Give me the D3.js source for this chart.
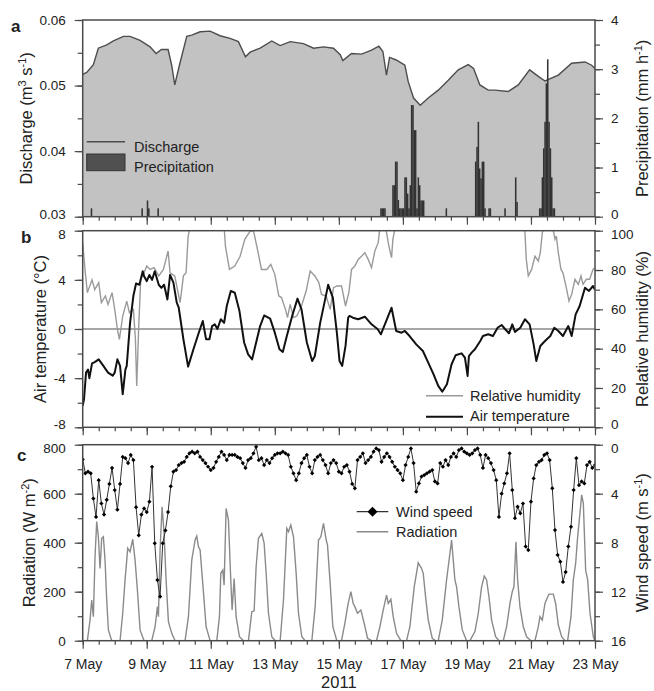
<!DOCTYPE html>
<html>
<head>
<meta charset="utf-8">
<script src="https://cdn.jsdelivr.net/npm/d3@7"></script>
<style>
  body { margin: 0; background: #fff; }
  svg { font-family: "Liberation Sans", Arial, sans-serif; }
</style>
</head>
<body>
<svg id="chart" width="654" height="691"></svg>
<script>
// hours after 7 May 2011 00:00, value
const discharge = [
  [0, 0.0517], [3, 0.052], [8, 0.0532], [11.7, 0.0557], [18, 0.0562], [23, 0.0568], [30.5, 0.0575],
  [35.5, 0.0575], [43, 0.0569], [50.5, 0.0559], [55, 0.0549], [59, 0.0555], [64, 0.0555], [66.7, 0.0531],
  [69, 0.0501], [72.5, 0.0531], [78, 0.0575], [81.7, 0.0577], [88, 0.0582], [95.5, 0.0583], [103, 0.0576],
  [110.5, 0.0572], [116.7, 0.0567], [122, 0.0544], [125.5, 0.0551], [133, 0.0557], [141.7, 0.0568],
  [148, 0.0561], [155.5, 0.0567], [165.5, 0.0564], [173, 0.0557], [180.5, 0.0559], [188, 0.0557],
  [193, 0.0547], [195, 0.0538], [201.5, 0.0549], [209, 0.0548], [216.5, 0.0554], [222, 0.056],
  [225, 0.0552], [227.7, 0.0516], [230, 0.0543], [235, 0.0539], [241.5, 0.0531], [244, 0.0506],
  [248, 0.0481], [253, 0.047], [259, 0.0481], [266.5, 0.0493], [274, 0.0508], [281.5, 0.0524],
  [289, 0.0532], [293, 0.0526], [297.7, 0.0501], [304, 0.0493], [309, 0.0493], [319, 0.0491],
  [326.5, 0.0501], [335, 0.0524], [341.5, 0.0514], [346.5, 0.0507], [356.5, 0.0516], [366.5, 0.0534],
  [376.5, 0.0536], [381.5, 0.0531], [384, 0.0526],
];

// hourly totals (start hour, mm/h), zero hours left out
const precipitation = [
  [6, 0.17], [44, 0.17], [48, 0.33], [49, 0.17], [56, 0.17],
  [223, 0.17], [224, 0.17], [225, 0.17], [226, 0.17],
  [232, 0.64], [233, 0.64], [234, 1.12], [235, 1.12], [236, 0.34], [237, 0.17], [238, 0.17], [239, 0.17],
  [240, 0.17], [241, 0.8], [242, 0.8], [243, 0.47], [244, 0.17], [245, 0.64], [246, 2.27], [247, 2.27],
  [248, 1.76], [249, 1.76], [250, 0.17], [251, 0.8], [252, 0.64], [253, 0.33], [254, 0.33], [255, 0.33],
  [272, 0.17],
  [294, 1.12], [295, 1.42], [296, 1.93], [297, 0.98], [298, 0.78], [299, 1.12], [300, 1.12], [301, 0.17],
  [304, 0.17], [305, 0.17], [316, 0.17], [324, 0.8], [325, 0.3],
  [342, 0.17], [343, 0.17], [344, 0.8], [345, 1.39], [346, 1.93], [347, 2.71], [348, 3.2], [349, 1.93],
  [350, 1.39], [351, 0.8], [352, 0.17], [353, 0.17],
];

const airTemperature = [
  [0, -6.26], [1, -5.7], [2.5, -3.55], [4, -3.3], [5, -4.0], [7, -2.8], [9, -2.7], [12, -2.47], [15.5, -3.0],
  [19, -3.55], [22.5, -3.8], [24, -3.55], [26, -2.47], [28, -3.0], [30, -5.3], [32, -3.3], [33, -3.0],
  [35.5, 0.5], [38, 2.7], [40, 3.7], [42.5, 3.6], [45, 4.7], [46, 4.3], [48, 3.9], [50, 4.4], [52, 4.0],
  [54, 4.7], [57, 3.6], [59, 3.35], [61, 3.6], [63.5, 2.4], [65.5, 4.4], [68, 3.77], [70.5, 2.14],
  [72, 1.73], [75.5, -0.84], [79, -3.06], [83, -1.65], [87, -0.3], [90, 0.65], [92.5, -0.84], [95, -0.84],
  [97, 0.24], [99, 0.38], [101, 0], [103.5, 0.79], [106, 0.5], [108, 1.87], [111, 3.1], [114, 2.95],
  [117.5, 1.46], [121, -1.1], [124, -2.06], [127, -2.47], [130, -1.1], [133, 0.24], [136, 1.1],
  [140.5, 0.84], [144, -0.3], [147.5, -1.65], [150, -1.87], [153, -0.57], [157, 1.06], [161, 2.47],
  [164, 1.6], [168, -1.1], [172, -2.6], [174, -2.2], [178, 0.5], [182, 2.55], [184, 3.6], [187.5, 2.55],
  [190.5, -0.3], [192.5, -2.6], [194.5, -3.0], [197, -1.38], [199, 0.92], [200, 1.06], [202.5, 0.92],
  [206.5, 0.79], [211.5, 1.0], [216.5, 0.38], [221, 0], [223.5, -0.43], [226.5, 0.38], [231.5, 1.73],
  [235, -0.16], [239, -0.3], [241.5, -0.16], [245, -0.57], [250, -1.25], [255, -1.79], [259, -2.74],
  [263, -3.69], [266.5, -4.63], [269.5, -5.1], [273, -4.5], [276.5, -2.87], [279.5, -2.14], [284, -1.98],
  [286.5, -2.33], [288.5, -3.82], [289.5, -2.2], [291.5, -1.92], [294, -1.65], [298, -0.98], [300, -0.57],
  [304, -0.43], [307.5, -0.57], [311, 0.1], [314, 0.33], [316.5, 0], [319.5, -0.35], [322, 0.38],
  [324, -0.24], [328, 0.1], [331.5, 0.79], [335, 0.38], [338, -1.25], [340, -2.6], [343, -1.38],
  [346.5, -0.98], [350.5, -0.57], [353.5, 0.1], [356.5, -0.16], [360, -0.57], [364, 0.24], [366.5, -0.57],
  [369.5, 1.19], [372.5, 1.87], [376.5, 3.36], [379.5, 3.1], [382.5, 3.5], [384, 3.2],
];

const relativeHumidity = [
  [0, 93.9], [1.75, 80], [3.5, 68.5], [7, 75], [9, 70], [12, 73.6], [14, 63.4], [17, 66.8], [19, 62.5],
  [22, 68.5], [24, 60], [26, 49.8], [27.5, 44.7], [30, 56.6], [33, 64.2], [35, 58.3], [38, 60], [39.5, 45],
  [40.5, 21], [42, 51.5], [43.5, 75.3], [45.5, 77.8], [48, 82], [50.5, 80.3], [53.5, 81.2], [57, 77],
  [60.5, 80.3], [64, 89.7], [65.5, 78.6], [69, 77], [73, 63.4], [75.5, 77], [77.5, 78.6], [79, 97],
  [80.5, 102], [88, 104], [98, 104], [106, 102], [107, 92], [110, 80.3], [114, 82], [118, 87],
  [121.5, 95.6], [125.5, 99.8], [128, 100], [131.5, 88.8], [134, 80.3], [138, 80.3], [141, 82.9],
  [144, 77.8], [147, 66.8], [149, 66], [152, 60], [153.5, 55.8], [155.5, 62.5], [158, 55.8], [160.5, 56.6],
  [164, 61.7], [167.5, 69.3], [170.5, 79.5], [174, 77], [177, 73.6], [179, 67.6], [182.5, 66.8],
  [185.5, 60], [188, 71], [190.5, 71.9], [194, 71.9], [197, 61.7], [199.5, 68.5], [201.5, 80.3], [204, 82],
  [206.5, 85.4], [209, 87], [211.5, 88.8], [214, 85.4], [216.5, 81.2], [219, 89.7], [221.5, 93.9],
  [222.5, 99.8], [225, 102], [227.5, 100], [229.5, 92.2], [231.5, 86.3], [232.5, 95.6], [234, 101],
  [240, 106], [330, 106], [331.5, 99], [332.5, 85.4], [334, 77], [336.5, 80.3], [339, 87], [341.5, 84.6],
  [343, 88.8], [344.5, 99], [346.5, 102], [352.5, 101], [354, 95.6], [355, 97.3], [356.5, 88.8],
  [358.5, 80.3], [360, 78.6], [362.5, 71], [364.5, 64.2], [366.5, 67.6], [369, 75.3], [371.5, 72.7],
  [373.5, 77], [375, 72.7], [377.5, 75.3], [380, 75.3], [382.5, 80.3], [384, 81.2],
];

const radiation = [
  [0, 0], [3.5, 0], [5.5, 84], [6.75, 166], [8, 98], [9.25, 343], [10.5, 486], [11.75, 424], [13, 295],
  [14.25, 418], [15.5, 424], [16.75, 329], [18, 166], [19.25, 44], [21.75, 0],
  [28, 0], [30, 112], [31.75, 248], [33.75, 377], [35.5, 363], [37.5, 414], [39.25, 329], [41, 207], [43, 44], [46, 0],
  [51.75, 0], [54.25, 57], [56, 139], [56.75, 98], [58, 370], [59.5, 547], [61, 438], [62.5, 248], [64.25, 78], [66.75, 30], [69.25, 0],
  [76.75, 0], [79.25, 98], [81.75, 329], [84.25, 411], [85.5, 427], [86.75, 384], [88, 370], [90, 234], [92.5, 57], [95.5, 0],
  [100.5, 0], [102.5, 98], [103.5, 275], [105, 288], [106, 227], [107.5, 540], [109.25, 492], [111, 248], [112, 125],
  [113.5, 254], [115, 98], [117.5, 16], [120.5, 0],
  [124.25, 0], [126.75, 118], [128.5, 122], [130, 302], [131.75, 418], [134.25, 438], [136, 397], [137.5, 275],
  [139.25, 112], [141.75, 16], [144.25, 0],
  [148, 0], [150.5, 166], [153, 458], [154.25, 445], [156, 472], [158, 424], [160, 275], [161.75, 112], [164.25, 16], [166.75, 0],
  [171.75, 0], [174.25, 139], [176.75, 411], [178.5, 424], [180.5, 479], [182.5, 411], [183.5, 390], [185.5, 234], [187.5, 57], [190.5, 0],
  [194, 0], [196.5, 71], [199, 152], [201, 200], [202.75, 152], [204, 139], [206, 112], [208.5, 125], [211, 71], [213.5, 10], [216.5, 0],
  [220.25, 0], [222.75, 57], [225.25, 125], [227.75, 186], [229, 152], [231, 169], [232.75, 98], [235.25, 30], [238.5, 0],
  [242.75, 0], [245.25, 57], [248.5, 220], [251.5, 318], [254, 295], [255.25, 275], [257, 180], [259, 84], [262, 10], [264.5, 0],
  [266.5, 0], [269.5, 84], [272.75, 248], [275.25, 356], [276.5, 411], [277.75, 329], [279, 248], [280.25, 220], [282, 139],
  [284.5, 44], [287.75, 0],
  [290.25, 0], [294, 37], [296.5, 112], [299, 220], [301, 264], [302.75, 248], [304.5, 180], [306.5, 84], [309.5, 16], [312, 0],
  [315.25, 0], [317.75, 57], [320.25, 152], [322, 200], [323.25, 220], [324.75, 404], [326, 248], [327.75, 139], [330.25, 57],
  [332.75, 16], [336, 0],
  [339, 0], [341.5, 57], [342.75, 98], [344.5, 84], [346.5, 152], [347.75, 169], [349.5, 190], [352.75, 190], [354.5, 152],
  [356.5, 64], [359, 16], [361.5, 0],
  [363.5, 0], [366, 98], [367.75, 248], [369.5, 316], [371, 424], [372, 479], [374, 595], [375.25, 561], [377, 288],
  [378.5, 248], [380.25, 112], [382.75, 16], [384, 0],
];

// wind speed every 2 h from 7 May 00:00, one row per day
const windStepHours = 2;
const windSpeed = [
  1.2, 2.34, 2.2, 2.34, 4.4, 5.9, 2.9, 4.8, 5.7, 4.5, 3.2, 1.9,
  3.7, 5.3, 3.2, 1.0, 1.1, 1.5, 0.84, 1.25, 5.1, 7.4, 5.7, 5.2,
  5.5, 4.65, 1.8, 8.05, 11.05, 12.4, 8.05, 7.0, 5.5, 3.4, 2.2, 2.07,
  1.66, 1.5, 1.4, 1.0, 0.7, 0.57, 0.7, 0.57, 1.0, 1.25, 1.5, 1.8,
  2.07, 1.9, 1.4, 1.0, 0.57, 0.84, 1.25, 0.84, 0.84, 0.84, 1.0, 1.1,
  1.5, 1.9, 1.25, 1.1, 0.7, 0.16, 1.25, 1.1, 1.66, 1.25, 1.5, 1.1,
  0.84, 0.7, 0.7, 0.57, 0.7, 0.84, 1.8, 2.34, 2.9, 2.34, 1.5, 1.1,
  0.84, 1.8, 2.34, 1.25, 1.0, 0.84, 1.25, 1.66, 2.34, 1.5, 1.25, 1.5,
  2.2, 2.34, 1.8, 1.66, 2.2, 3.2, 3.56, 1.25, 1.0, 0.7, 1.5, 1.25,
  1.0, 0.57, 0.3, 0.44, 1.4, 1.0, 0.7, 1.0, 1.4, 1.8, 2.07, 2.34,
  2.9, 1.66, 1.0, 0.3, 1.5, 3.84, 3.16, 2.6, 2.48, 2.34, 2.2, 2.07,
  3.0, 3.16, 1.5, 1.8, 1.25, 1.66, 1.0, 0.7, 1.0, 0.44, 0.3, 0.57,
  0.7, 0.84, 0.7, 0.44, 0.3, 0.84, 1.9, 0.84, 1.1, 1.5, 2.07, 2.9,
  5.9, 4.0, 3.16, 2.34, 0.7, 3.7, 6.0, 5.06, 5.6, 4.8, 8.3, 8.6,
  4.65, 2.75, 1.66, 1.4, 1.25, 0.84, 0.7, 1.25, 3.56, 6.97, 9.0, 9.55,
  11.2, 10.4, 8.3, 6.7, 3.7, 1.1, 3.3, 3.0, 3.16, 1.66, 1.4, 1.9,
  1.66,
];

const dischargeTicks = [0.03, 0.04, 0.05, 0.06];
const precipTicks = [0, 1, 2, 3, 4];
const temperatureTicks = [-8, -4, 0, 4, 8];
const humidityTicks = [0, 20, 40, 60, 80, 100];
const radiationTicks = [0, 200, 400, 600, 800];
const windTicks = [0, 4, 8, 12, 16];
const dayLabelHours = [0, 48, 96, 144, 192, 240, 288, 336, 384];

const left = 82.7;
const right = 595;
const panels = {
  a: { top: 20, bottom: 216.7 },
  b: { top: 230.7, bottom: 427.3 },
  c: { top: 444.7, bottom: 640.7 },
};
const frameColor = "#4a4a4a";
const textColor = "#222";

const toDate = (h) => new Date(Date.UTC(2011, 4, 7) + h * 3600 * 1000);

const svg = d3.select("#chart");
const x = d3.scaleUtc().domain([toDate(0), toDate(384)]).range([left, right]);

const yQ = d3.scaleLinear().domain([0.03, 0.06]).range([panels.a.bottom, panels.a.top]);
const yP = d3.scaleLinear().domain([0, 4]).range([panels.a.bottom, panels.a.top]);
const yT = d3.scaleLinear().domain([-8, 8]).range([panels.b.bottom, panels.b.top]);
const yH = d3.scaleLinear().domain([0, 100]).range([panels.b.bottom, panels.b.top]);
const yR = d3.scaleLinear().domain([0, 800]).range([panels.c.bottom, panels.c.top]);
const yW = d3.scaleLinear().domain([0, 16]).range([panels.c.top, panels.c.bottom]);

const defs = svg.append("defs");
Object.entries(panels).forEach(([k, p]) => {
  defs.append("clipPath").attr("id", `clip-${k}`)
    .append("rect")
    .attr("x", left).attr("y", p.top)
    .attr("width", right - left).attr("height", p.bottom - p.top);
});

function halfSteps(ticks) {
  const step = ticks[1] - ticks[0];
  return d3.range(ticks.length * 2 - 1).map((i) => ticks[0] + (i * step) / 2);
}

function styleAxis(g) {
  g.select(".domain").remove();
  g.selectAll(".tick line").attr("stroke", frameColor).attr("stroke-width", 1.2);
  g.selectAll(".tick text").attr("fill", textColor).attr("font-size", 13.5);
}

// labels at a shared panel edge are nudged apart so they do not collide
function nudgeEnds(g, scale, p, shiftTop, shiftBottom) {
  g.selectAll(".tick text").attr("y", (d) => {
    const py = scale(d);
    if (Math.abs(py - p.top) < 0.5) return shiftTop;
    if (Math.abs(py - p.bottom) < 0.5) return -shiftBottom;
    return 0;
  });
}

function drawAxes(p, yLeft, leftTicks, leftFormat, yRight, rightTicks, opts) {
  const { showDates = false, shiftTop = 0, shiftBottom = 0 } = opts;
  const g = svg.append("g");

  g.append("g")
    .attr("transform", `translate(0,${p.bottom})`)
    .call(d3.axisBottom(x).tickValues(d3.range(0, 385, 12).map(toDate)).tickSize(4).tickFormat(""))
    .call(styleAxis);
  g.append("g")
    .attr("transform", `translate(0,${p.bottom})`)
    .call(
      d3.axisBottom(x)
        .tickValues(dayLabelHours.map(toDate))
        .tickSize(8)
        .tickPadding(10)
        .tickFormat(showDates ? d3.utcFormat("%-d %b") : "")
    )
    .call(styleAxis)
    .call((a) => a.selectAll(".tick text").attr("font-size", 14));

  g.append("g")
    .attr("transform", `translate(${left},0)`)
    .call(d3.axisLeft(yLeft).tickValues(halfSteps(leftTicks)).tickSize(5).tickFormat(""))
    .call(styleAxis);
  g.append("g")
    .attr("transform", `translate(${left},0)`)
    .call(d3.axisLeft(yLeft).tickValues(leftTicks).tickSize(8).tickPadding(9).tickFormat(leftFormat))
    .call(styleAxis)
    .call((a) => nudgeEnds(a, yLeft, p, shiftTop, shiftBottom));

  g.append("g")
    .attr("transform", `translate(${right},0)`)
    .call(d3.axisRight(yRight).tickValues(halfSteps(rightTicks)).tickSize(5).tickFormat(""))
    .call(styleAxis);
  g.append("g")
    .attr("transform", `translate(${right},0)`)
    .call(d3.axisRight(yRight).tickValues(rightTicks).tickSize(8).tickPadding(8).tickFormat((d) => String(d)))
    .call(styleAxis)
    .call((a) => nudgeEnds(a, yRight, p, shiftTop, shiftBottom));

  g.append("rect")
    .attr("x", left).attr("y", p.top)
    .attr("width", right - left).attr("height", p.bottom - p.top)
    .attr("fill", "none")
    .attr("stroke", frameColor)
    .attr("stroke-width", 1.5);
}

function yTitle(cx, cy, parts) {
  const t = svg.append("text")
    .attr("transform", `translate(${cx},${cy}) rotate(-90)`)
    .attr("text-anchor", "middle")
    .attr("font-size", 16.5)
    .attr("fill", textColor);
  let prev = 0;
  parts.forEach(([s, sup]) => {
    t.append("tspan")
      .attr("dy", (prev - sup) * 6)
      .attr("font-size", sup ? 11 : null)
      .text(s);
    prev = sup;
  });
}

function panelLetter(label, px, py) {
  svg.append("text")
    .attr("x", px).attr("y", py)
    .attr("font-size", 17)
    .attr("font-weight", "bold")
    .attr("fill", textColor)
    .text(label);
}

function legendText(px, py, s) {
  svg.append("text")
    .attr("x", px).attr("y", py)
    .attr("font-size", 14.5)
    .attr("fill", textColor)
    .text(s);
}

// panel a
const gA = svg.append("g").attr("clip-path", "url(#clip-a)");
gA.append("path")
  .datum(discharge)
  .attr("fill", "#c2c2c2")
  .attr("d", d3.area().x((d) => x(toDate(d[0]))).y0(yQ(0.03)).y1((d) => yQ(d[1])));
gA.append("path")
  .datum(discharge)
  .attr("fill", "none")
  .attr("stroke", "#4d4d4d")
  .attr("stroke-width", 1.4)
  .attr("d", d3.line().x((d) => x(toDate(d[0]))).y((d) => yQ(d[1])));
gA.selectAll(".bar")
  .data(precipitation)
  .join("rect")
  .attr("class", "bar")
  .attr("x", (d) => x(toDate(d[0])))
  .attr("width", (d) => x(toDate(d[0] + 1)) - x(toDate(d[0])) + 0.2)
  .attr("y", (d) => yP(d[1]))
  .attr("height", (d) => yP(0) - yP(d[1]))
  .attr("fill", "#333");

drawAxes(panels.a, yQ, dischargeTicks, d3.format(".2f"), yP, precipTicks, { shiftBottom: 3 });

svg.append("line")
  .attr("x1", 86.7).attr("x2", 125).attr("y1", 141.7).attr("y2", 141.7)
  .attr("stroke", "#4d4d4d").attr("stroke-width", 1.5);
svg.append("rect")
  .attr("x", 86.7).attr("y", 154).attr("width", 38.3).attr("height", 16.7)
  .attr("fill", "#505050").attr("stroke", "#333").attr("stroke-width", 1);
legendText(134, 151.5, "Discharge");
legendText(134, 171.5, "Precipitation");

// panel b
svg.append("line")
  .attr("x1", left).attr("x2", right)
  .attr("y1", yT(0)).attr("y2", yT(0))
  .attr("stroke", "#888").attr("stroke-width", 1.5);
const gB = svg.append("g").attr("clip-path", "url(#clip-b)");
gB.append("path")
  .datum(relativeHumidity)
  .attr("fill", "none")
  .attr("stroke", "#9a9a9a")
  .attr("stroke-width", 1.4)
  .attr("d", d3.line().x((d) => x(toDate(d[0]))).y((d) => yH(d[1])));
gB.append("path")
  .datum(airTemperature)
  .attr("fill", "none")
  .attr("stroke", "#111")
  .attr("stroke-width", 2)
  .attr("stroke-linejoin", "round")
  .attr("d", d3.line().x((d) => x(toDate(d[0]))).y((d) => yT(d[1])));

drawAxes(panels.b, yT, temperatureTicks, (d) => String(d), yH, humidityTicks, { shiftTop: 3, shiftBottom: 3 });

svg.append("line")
  .attr("x1", 426).attr("x2", 463).attr("y1", 395.7).attr("y2", 395.7)
  .attr("stroke", "#9a9a9a").attr("stroke-width", 1.5);
svg.append("line")
  .attr("x1", 426).attr("x2", 463).attr("y1", 416.7).attr("y2", 416.7)
  .attr("stroke", "#111").attr("stroke-width", 2);
legendText(470, 400.5, "Relative humidity");
legendText(470, 421, "Air temperature");

// panel c
const gC = svg.append("g").attr("clip-path", "url(#clip-c)");
gC.append("path")
  .datum(radiation)
  .attr("fill", "none")
  .attr("stroke", "#8a8a8a")
  .attr("stroke-width", 1.4)
  .attr("d", d3.line().x((d) => x(toDate(d[0]))).y((d) => yR(d[1])));
gC.append("path")
  .datum(windSpeed)
  .attr("fill", "none")
  .attr("stroke", "#333")
  .attr("stroke-width", 1)
  .attr("d", d3.line().x((d, i) => x(toDate(i * windStepHours))).y((d) => yW(d)));
const diamond = d3.symbol().type(d3.symbolSquare);
gC.selectAll(".wind-mark")
  .data(windSpeed)
  .join("path")
  .attr("class", "wind-mark")
  .attr("d", diamond.size(9)())
  .attr("transform", (d, i) => `translate(${x(toDate(i * windStepHours))},${yW(d)}) rotate(45)`)
  .attr("fill", "#000");

drawAxes(panels.c, yR, radiationTicks, (d) => String(d), yW, windTicks, { showDates: true, shiftTop: 3 });

svg.append("line")
  .attr("x1", 356.7).attr("x2", 388.3).attr("y1", 511.7).attr("y2", 511.7)
  .attr("stroke", "#333").attr("stroke-width", 1.2);
svg.append("path")
  .attr("d", d3.symbol().type(d3.symbolSquare).size(50)())
  .attr("transform", "translate(372.5,511.7) rotate(45)")
  .attr("fill", "#000");
svg.append("line")
  .attr("x1", 356.7).attr("x2", 388.3).attr("y1", 531.7).attr("y2", 531.7)
  .attr("stroke", "#8a8a8a").attr("stroke-width", 1.4);
legendText(396, 517, "Wind speed");
legendText(396, 536.7, "Radiation");

// titles and labels
const mid = (p) => (p.top + p.bottom) / 2;
yTitle(32, mid(panels.a), [["Discharge (m", 0], ["3", 1], [" s", 0], ["-1", 1], [")", 0]]);
yTitle(46, mid(panels.b), [["Air temperature (°C)", 0]]);
yTitle(35, mid(panels.c), [["Radiation (W m", 0], ["-2", 1], [")", 0]]);
yTitle(648, mid(panels.a), [["Precipitation (mm h", 0], ["-1", 1], [")", 0]]);
yTitle(648, mid(panels.b), [["Relative humidity (%)", 0]]);
yTitle(648, mid(panels.c), [["Wind speed (m s", 0], ["-1", 1], [")", 0]]);

panelLetter("a", 11, 32);
panelLetter("b", 21, 243);
panelLetter("c", 17, 461);

svg.append("text")
  .attr("x", (left + right) / 2)
  .attr("y", 688)
  .attr("text-anchor", "middle")
  .attr("font-size", 16.5)
  .attr("fill", textColor)
  .text("2011");
</script>
</body>
</html>
